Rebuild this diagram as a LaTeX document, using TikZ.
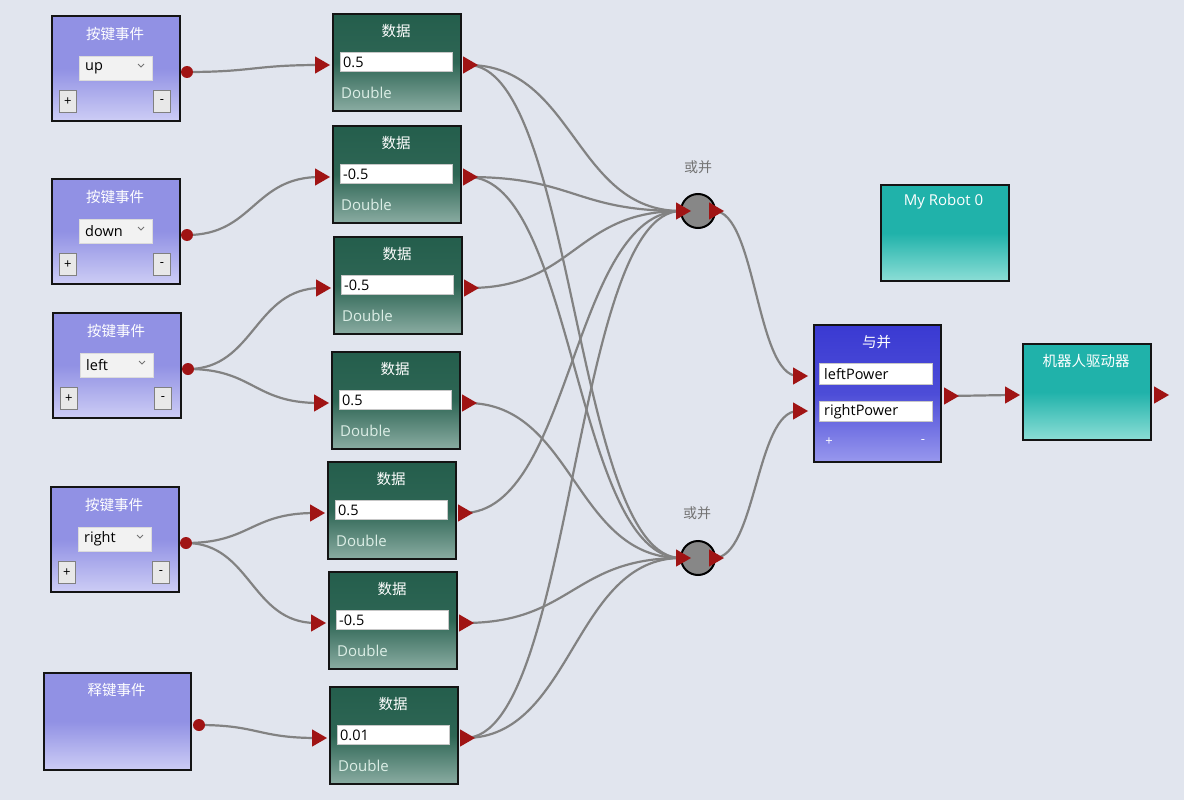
\documentclass[tikz,border=0pt]{standalone}
\usepackage{fontspec}
\setmainfont{Open Sans}
\newfontfamily\cjk{Noto Sans CJK SC}
\usetikzlibrary{shapes.geometric,calc,backgrounds}

\definecolor{bgc}{RGB}{225,229,238}
\definecolor{keyA}{RGB}{145,145,228}
\definecolor{keyB}{RGB}{205,205,245}
\definecolor{datA}{RGB}{36,94,76}
\definecolor{datB}{RGB}{138,172,162}
\definecolor{tealA}{RGB}{32,178,170}
\definecolor{tealB}{RGB}{140,222,214}
\definecolor{andA}{RGB}{58,58,210}
\definecolor{andB}{RGB}{152,152,238}
\definecolor{portred}{RGB}{160,20,20}
\definecolor{wiregray}{RGB}{130,130,130}
\definecolor{dtypec}{RGB}{220,238,230}

\tikzset{
  blockbase/.style={draw=black!92, line width=2pt, anchor=north west, inner sep=0pt},
  keybox/.style={blockbase, top color=keyA, bottom color=keyB, middle color=keyA,
    minimum width=128, minimum height=105},
  relbox/.style={blockbase, top color=keyA, bottom color=keyB, middle color=keyA,
    minimum width=147, minimum height=97},
  databox/.style={blockbase, top color=datA, bottom color=datB, middle color=datA!90!datB,
    minimum width=128, minimum height=97},
  tealbox/.style={blockbase, top color=tealA, bottom color=tealB, middle color=tealA,
    minimum width=128, minimum height=96},
  andbox/.style={blockbase, top color=andA, bottom color=andB, middle color=andA!80!andB,
    minimum width=127, minimum height=137},
  wtitle/.style={text=white, inner sep=0pt, font=\cjk\fontsize{14.5}{16}\selectfont},
  ltitle/.style={text=white, inner sep=0pt, font=\fontsize{15}{17}\selectfont},
  glabel/.style={text=black!55, inner sep=0pt, font=\cjk\fontsize{14}{16}\selectfont},
  dropbox/.style={anchor=north west, fill=black!5, draw=black!14, line width=0.8pt,
    minimum width=73, minimum height=24, inner sep=0pt},
  field/.style={anchor=north west, fill=white, draw=black!22, line width=0.8pt,
    minimum height=19, inner sep=0pt},
  txt/.style={anchor=west, inner sep=0pt, text=black, font=\fontsize{14.5}{16}\selectfont},
  dtype/.style={anchor=west, inner sep=0pt, text=dtypec, font=\fontsize{15}{17}\selectfont},
  btn/.style={anchor=north west, fill=black!9, draw=black!50, line width=0.8pt,
    minimum width=17, minimum height=22, inner sep=0pt, text=black,
    font=\fontsize{13}{14}\selectfont},
  pm/.style={inner sep=0pt, text=white, font=\fontsize{13}{14}\selectfont},
  chev/.style={draw=black!55, line width=0.8pt},
  dot/.style={circle, fill=portred, minimum size=12, inner sep=0pt},
  tri/.style={regular polygon, regular polygon sides=3, shape border rotate=-90,
    fill=portred, minimum size=20, inner sep=0pt},
  orc/.style={circle, fill=black!47, draw=black, line width=2pt, minimum size=34, inner sep=0pt},
  wire/.style={draw=wiregray, line width=2.2pt},
}

% curved connector leaving and entering horizontally
\newcommand\wire[2]{%
  \draw[wire] let \p1=(#1.center), \p2=(#2.center), \n1={0.5*(\x2-\x1)} in
    (\p1) .. controls +(\n1,0) and +(-\n1,0) .. (\p2);}

% key-press event block: name, left, top, key
\newcommand\keyblock[4]{%
  \node[keybox] (#1) at (#2,#3) {};
  \node[wtitle] (#1-t) at (#2+64,#3+19) {按键事件};
  \node[dropbox] (#1-c) at (#2+28,#3+41) {};
  \node[txt] (#1-v) at (#2+34,#3+53) {#4};
  \draw[chev] (#2+87,#3+49) -- (#2+90,#3+52) -- (#2+93,#3+49);
  \node[btn] (#1-p) at (#2+8,#3+75) {+};
  \node[btn] (#1-m) at (#2+102,#3+75) {-};
  \node[dot] (#1-o) at (#2+136,#3+57) {};
}

% data block: name, left, top, value
\newcommand\datablock[4]{%
  \node[databox] (#1) at (#2,#3) {};
  \node[wtitle] (#1-t) at (#2+64,#3+18) {数据};
  \node[field, minimum width=112] (#1-f) at (#2+8,#3+39) {};
  \node[txt] (#1-v) at (#2+11,#3+49) {#4};
  \node[dtype] (#1-d) at (#2+9,#3+80) {Double};
  \node[tri] (#1-i) at (#2-12,#3+52) {};
  \node[tri] (#1-o) at (#2+136,#3+52) {};
}

\begin{document}
\begin{tikzpicture}[x=1pt,y=-1pt]
\useasboundingbox (0,0) rectangle (1184,800);

% key events
\keyblock{k1}{51}{15}{up}
\keyblock{k2}{51}{178}{down}
\keyblock{k3}{52}{312}{left}
\keyblock{k4}{50}{486}{right}

% key release event
\node[relbox] (k5) at (43,672) {};
\node[wtitle] (k5-t) at (116.5,690) {释键事件};
\node[dot] (k5-o) at (199,725) {};

% data values
\datablock{d1}{332}{13}{0.5}
\datablock{d2}{332}{125}{-0.5}
\datablock{d3}{333}{236}{-0.5}
\datablock{d4}{331}{351}{0.5}
\datablock{d5}{327}{461}{0.5}
\datablock{d6}{328}{571}{-0.5}
\datablock{d7}{329}{686}{0.01}

% or-merge nodes
\node[orc] (or1) at (698,211) {};
\node[glabel] (or1-l) at (698,167) {或并};
\node[tri] (or1-i) at (681,211) {};
\node[tri] (or1-o) at (714,211) {};
\node[orc] (or2) at (698,558) {};
\node[glabel] (or2-l) at (697,513) {或并};
\node[tri] (or2-i) at (681,558) {};
\node[tri] (or2-o) at (714,558) {};

% and-merge block
\node[andbox] (and) at (813,324) {};
\node[wtitle] (and-t) at (876.5,342) {与并};
\node[field, minimum width=113, minimum height=21] (and-f1) at (819,363) {};
\node[txt] (and-v1) at (824,374) {leftPower};
\node[field, minimum width=113, minimum height=20] (and-f2) at (819,401) {};
\node[txt] (and-v2) at (824,411.5) {rightPower};
\node[pm] (and-p) at (829,442) {+};
\node[pm] (and-m) at (923,442) {-};
\node[tri] (and-i1) at (798,376) {};
\node[tri] (and-i2) at (798,411) {};
\node[tri] (and-o) at (949,396) {};

% robot and driver
\node[tealbox] (robot) at (880,184) {};
\node[ltitle] (robot-t) at (943.5,202) {My Robot 0};
\node[tealbox] (drv) at (1022,343) {};
\node[wtitle] (drv-t) at (1086,361) {机器人驱动器};
\node[tri] (drv-i) at (1010,395) {};
\node[tri] (drv-o) at (1159,395) {};

\begin{scope}[on background layer]
  \fill[bgc] (0,0) rectangle (1184,800);
  \wire{k1-o}{d1-i}
  \wire{k2-o}{d2-i}
  \wire{k3-o}{d3-i}
  \wire{k3-o}{d4-i}
  \wire{k4-o}{d5-i}
  \wire{k4-o}{d6-i}
  \wire{k5-o}{d7-i}
  \wire{d1-o}{or1-i}
  \wire{d1-o}{or2-i}
  \wire{d2-o}{or1-i}
  \wire{d2-o}{or2-i}
  \wire{d3-o}{or1-i}
  \wire{d4-o}{or2-i}
  \wire{d5-o}{or1-i}
  \wire{d6-o}{or2-i}
  \wire{d7-o}{or1-i}
  \wire{d7-o}{or2-i}
  \wire{or1-o}{and-i1}
  \wire{or2-o}{and-i2}
  \wire{and-o}{drv-i}
\end{scope}
\end{tikzpicture}
\end{document}
